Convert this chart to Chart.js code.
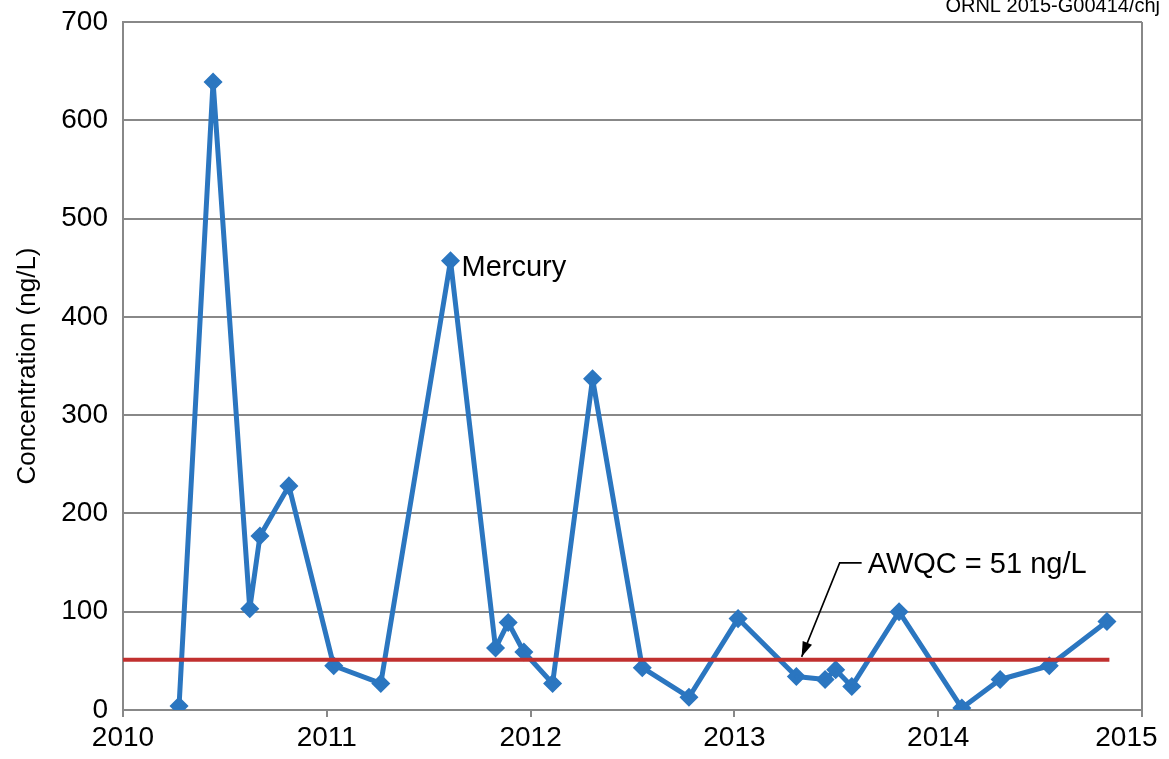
<!DOCTYPE html>
<html>
<head>
<meta charset="utf-8">
<script src="https://cdn.jsdelivr.net/npm/chart.js@4.4.1/dist/chart.umd.min.js"></script>
<style>
  html, body { margin: 0; padding: 0; background: #fff; }
  #wrap { width: 1169px; height: 759px; position: relative; }
</style>
</head>
<body>
<div id="wrap"><canvas id="hgChart"></canvas></div>
<script>
// sample dates (decimal years) and mercury concentrations (ng/L)
const sampleYears = [
  2010.275, 2010.442, 2010.622, 2010.672, 2010.814, 2011.034, 2011.265,
  2011.607, 2011.828, 2011.890, 2011.967, 2012.108, 2012.304, 2012.548,
  2012.777, 2013.018, 2013.304, 2013.445, 2013.497, 2013.576, 2013.808,
  2014.116, 2014.304, 2014.545, 2014.828
];
const mercury = [
  4, 639, 103, 177, 228, 45, 27,
  457, 63, 89, 59, 27, 337, 43,
  13, 93, 34, 31, 41, 24, 100,
  2, 31, 45, 90
];
const awqcValue = 51;
const awqcRange = [2010, 2014.84];
const yearTicks = [2010, 2011, 2012, 2013, 2014, 2015];

const FONT = "'Liberation Sans', Arial, Helvetica, sans-serif";

const hgPoints = sampleYears.map((x, i) => ({ x: x, y: mercury[i] }));
const awqcPoints = awqcRange.map(x => ({ x: x, y: awqcValue }));

// labels, arrow, right border and the cut-off job number
const notes = {
  id: "notes",
  afterDraw(chart) {
    const ctx = chart.ctx;
    const xs = chart.scales.x, ys = chart.scales.y;
    const area = chart.chartArea;
    ctx.save();

    // right frame line
    ctx.strokeStyle = "#888";
    ctx.lineWidth = 2;
    ctx.beginPath();
    ctx.moveTo(area.right, area.top);
    ctx.lineTo(area.right, area.bottom);
    ctx.stroke();

    ctx.fillStyle = "#000";
    ctx.font = "29px " + FONT;
    ctx.textBaseline = "middle";

    // series label next to the biggest 2011 peak
    const pk = chart.getDatasetMeta(1).data[7];
    ctx.textAlign = "left";
    ctx.fillText("Mercury", pk.x + 11, pk.y + 7);

    // AWQC callout with arrow
    const tipX = xs.getPixelForValue(2013.33);
    const tipY = ys.getPixelForValue(awqcValue) - 3;
    const elbowX = tipX + 38, elbowY = tipY - 94;
    ctx.strokeStyle = "#000";
    ctx.lineWidth = 1.6;
    ctx.beginPath();
    ctx.moveTo(elbowX + 22, elbowY);
    ctx.lineTo(elbowX, elbowY);
    ctx.lineTo(tipX, tipY);
    ctx.stroke();
    const ang = Math.atan2(tipY - elbowY, tipX - elbowX);
    ctx.beginPath();
    ctx.moveTo(tipX, tipY);
    ctx.lineTo(tipX - 16 * Math.cos(ang - 0.32), tipY - 16 * Math.sin(ang - 0.32));
    ctx.lineTo(tipX - 16 * Math.cos(ang + 0.32), tipY - 16 * Math.sin(ang + 0.32));
    ctx.closePath();
    ctx.fill();
    ctx.fillText("AWQC = 51 ng/L", elbowX + 28, elbowY + 2);

    // drawing number, clipped at the top edge
    ctx.font = "20px " + FONT;
    ctx.textAlign = "right";
    ctx.textBaseline = "alphabetic";
    ctx.fillText("ORNL 2015-G00414/chj", 1160, 12);

    ctx.restore();
  }
};

new Chart(document.getElementById("hgChart"), {
  type: "line",
  data: {
    datasets: [
      {
        label: "AWQC",
        data: awqcPoints,
        borderColor: "#c1302f",
        borderWidth: 4,
        pointRadius: 0,
        order: 0
      },
      {
        label: "Mercury",
        data: hgPoints,
        borderColor: "#2b76c0",
        backgroundColor: "#2b76c0",
        borderWidth: 5,
        borderJoinStyle: "round",
        pointStyle: "rectRot",
        pointRadius: 6,
        tension: 0,
        order: 1
      }
    ]
  },
  options: {
    responsive: true,
    maintainAspectRatio: false,
    animation: false,
    layout: { padding: { top: 22, right: 27, left: 0, bottom: 0 } },
    plugins: {
      legend: { display: false },
      tooltip: { enabled: false }
    },
    scales: {
      x: {
        type: "linear",
        min: 2010,
        max: 2015,
        afterBuildTicks: (axis) => { axis.ticks = yearTicks.map(v => ({ value: v })); },
        afterFit: (axis) => {
          axis.height = 49;
          axis.paddingLeft = 0;
          axis.paddingRight = 0;
        },
        ticks: {
          color: "#000",
          font: { family: FONT, size: 28 },
          padding: 4,
          maxRotation: 0,
          // last label sits a little left of its tick, as in the original
          callback: (v) => v === 2015 ? "2015    " : String(v)
        },
        grid: {
          drawOnChartArea: false,
          drawTicks: true,
          tickLength: 7,
          color: "#888",
          lineWidth: 2
        },
        border: { color: "#888", width: 2 }
      },
      y: {
        min: 0,
        max: 700,
        afterFit: (axis) => {
          axis.width = 123;
          axis.paddingTop = 0;
          axis.paddingBottom = 0;
        },
        ticks: {
          stepSize: 100,
          color: "#000",
          font: { family: FONT, size: 28 },
          padding: 15
        },
        grid: {
          color: "#888",
          lineWidth: 2,
          drawTicks: false
        },
        border: { color: "#888", width: 2 },
        title: {
          display: true,
          text: "Concentration (ng/L)",
          color: "#000",
          font: { family: FONT, size: 26 },
          padding: { top: 12, bottom: 0 }
        }
      }
    }
  },
  plugins: [notes]
});
</script>
</body>
</html>
